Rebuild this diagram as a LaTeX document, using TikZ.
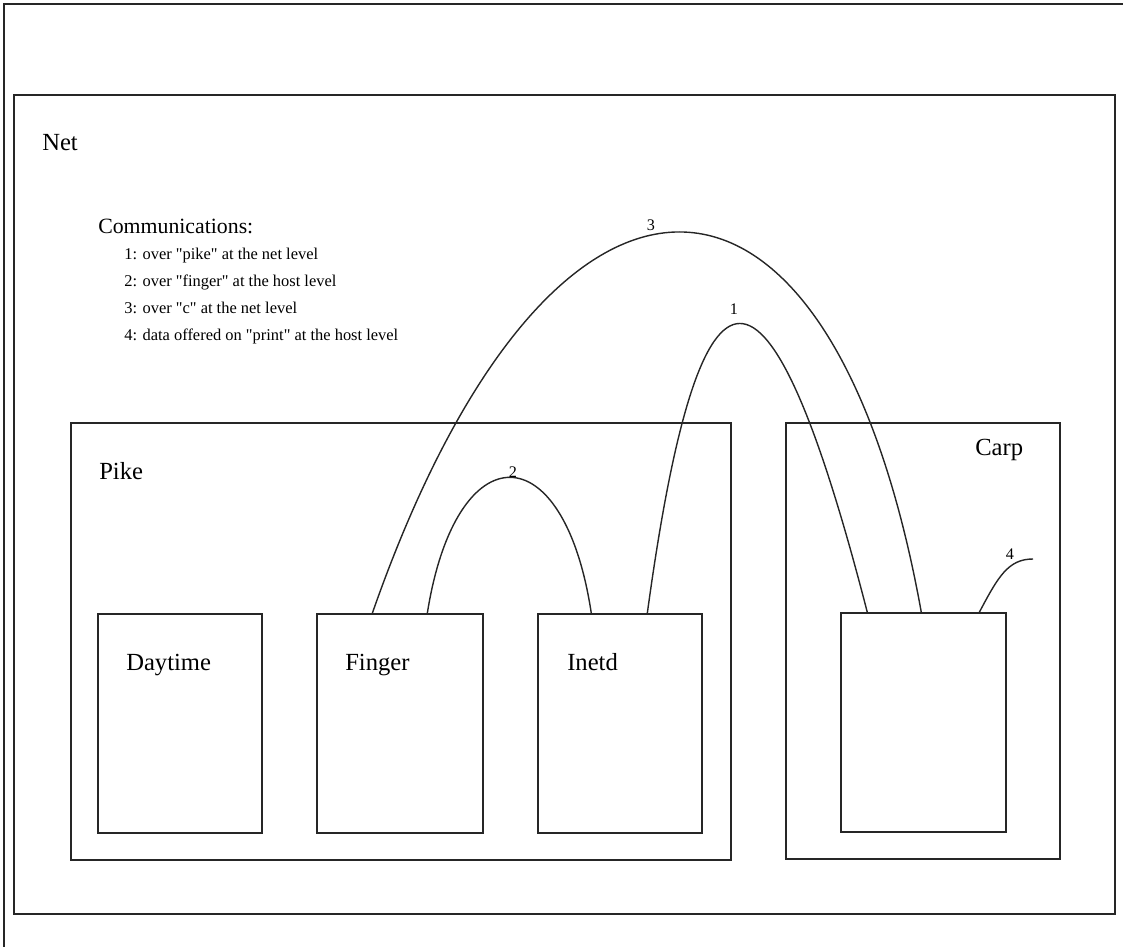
\documentclass[tikz,border=0pt]{standalone}
\usepackage{fontspec}
\setmainfont{Liberation Serif}[Ligatures=TeXOff]
\usepackage{tikz}
\usetikzlibrary{positioning, calc, fit}

\tikzset{
    box/.style={draw=black!85, line width=1pt, rectangle, inner sep=0pt},
    link/.style={draw=black!85, line width=1pt},
    biglbl/.style={inner sep=0pt, font=\fontsize{17.5}{20}\selectfont},
    numlbl/.style={inner sep=0pt, font=\fontsize{11.5}{13}\selectfont},
    itemlbl/.style={inner sep=0pt, anchor=base west, font=\fontsize{11.7}{14}\selectfont}
}

\begin{document}
\begin{tikzpicture}[x=0.025cm, y=-0.025cm]
    \useasboundingbox (0,0) rectangle (1123,947);

    % Page edge
    \draw[black!85, line width=1pt] (1123,4) -- (4,4) -- (4,947);

    % Net, hosts and processes
    \node[box, fit={(14,95) (1115,914)}] (net) {};
    \node[box, fit={(71,423) (731,860)}] (pike) {};
    \node[box, fit={(786,423) (1060,859)}] (carp) {};
    \node[box, fit={(98,614) (262,833)}] (daytime) {};
    \node[box, fit={(317,614) (483,833)}] (finger) {};
    \node[box, fit={(538,614) (702,833)}] (inetd) {};
    \node[box, fit={(841,613) (1006,832)}] (carpproc) {};

    % Labels
    \node[biglbl, anchor=base west] (netlbl) at (42,150) {Net};
    \node[biglbl, anchor=base west] (pikelbl) at (99,479) {Pike};
    \node[biglbl, anchor=base west] (carplbl) at (975,455) {Carp};
    \node[biglbl, anchor=base west] (daytimelbl) at (126,670) {Daytime};
    \node[biglbl, anchor=base west] (fingerlbl) at (345,670) {Finger};
    \node[biglbl, anchor=base west] (inetdlbl) at (567,670) {Inetd};

    % Legend
    \node[inner sep=0pt, anchor=base west, font=\fontsize{15.5}{18}\selectfont] (commhead) at (98,233) {Communications:};
    \foreach \i/\y/\txt in {1/259/{1: over "pike" at the net level},
                            2/286/{2: over "finger" at the host level},
                            3/313/{3: over "c" at the net level},
                            4/340/{4: data offered on "print" at the host level}} {
        \node[itemlbl] (comm\i) at (124,\y) {\txt};
    }

    % Communications
    \draw[link] ($(finger.north west)+(56,0)$) .. controls (550,105) and (830,105) .. ($(carpproc.north west)+(81,0)$);
    \draw[link] ($(finger.north west)+(111,0)$) .. controls (456,432) and (564,432) .. ($(inetd.north west)+(54,0)$);
    \draw[link] ($(inetd.north west)+(110,0)$) .. controls (700,227) and (768,227) .. ($(carpproc.north west)+(27,0)$);
    \coordinate (printend) at (1033,559);
    \draw[link] ($(carpproc.north west)+(139,0)$) .. controls (998,577) and (1008,559) .. (printend);

    \node[numlbl] (lbl3) at (651,225) {3};
    \node[numlbl] (lbl1) at (734,309) {1};
    \node[numlbl] (lbl2) at (513,472) {2};
    \node[numlbl] (lbl4) at (1010,554) {4};
\end{tikzpicture}
\end{document}
